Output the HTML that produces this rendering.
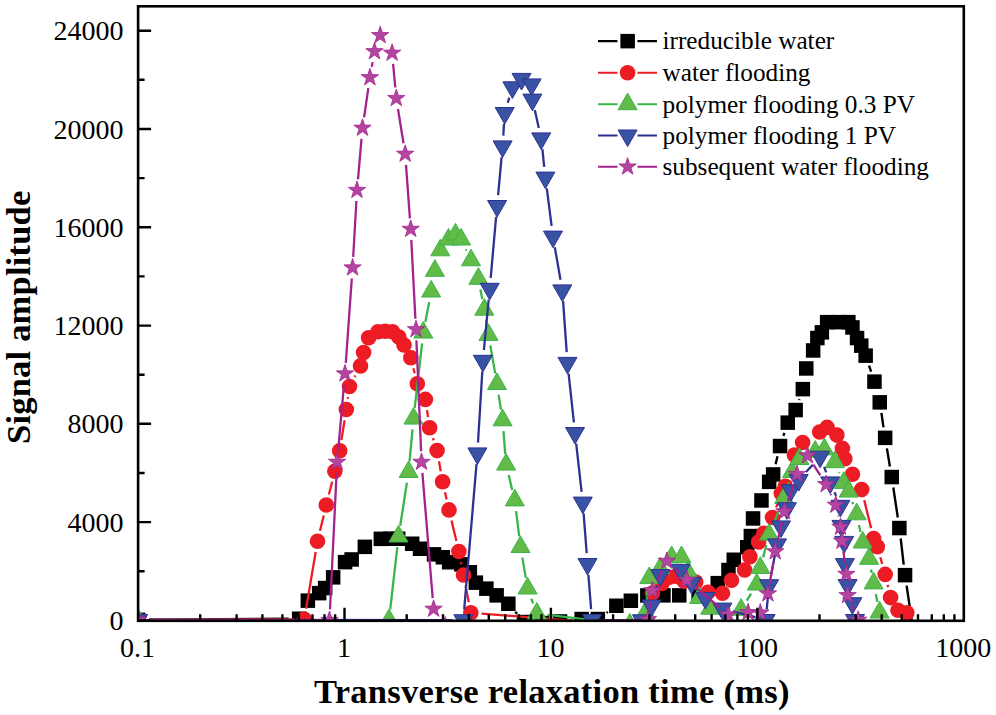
<!DOCTYPE html>
<html><head><meta charset="utf-8"><title>T2 spectra</title>
<style>html,body{margin:0;padding:0;background:#fff}svg{display:block}</style></head>
<body>
<svg width="996" height="715" viewBox="0 0 996 715">
<rect width="996" height="715" fill="#fff"/>
<defs><clipPath id="cp"><rect x="138.1" y="6.3" width="825.6999999999999" height="614.5"/></clipPath></defs>
<g clip-path="url(#cp)">
<path d="M148.8 619.8L288.6 618.8M515.3 611.8L517.1 613.9M570.5 620.3L571.1 620.2M606.5 612.8L607.8 611.9M707.4 590.1L708.9 589.0M775.6 464.2L777.5 456.3M783.4 435.9L784.4 432.8M799.1 400.0L799.4 399.1M869.0 365.7L871.1 371.7M881.4 412.9L883.5 427.4M886.9 448.4L889.9 466.5M893.3 487.5L897.8 517.5M900.7 538.5L903.7 564.6M906.6 585.6L911.9 621.5" stroke="#000" stroke-width="2.4" fill="none"/>
<g fill="#000"><rect x="130.9" y="612.6" width="14.5" height="14.5"/><rect x="291.9" y="611.5" width="14.5" height="14.5"/><rect x="300.6" y="593.4" width="14.5" height="14.5"/><rect x="311.9" y="585.9" width="14.5" height="14.5"/><rect x="317.9" y="580.8" width="14.5" height="14.5"/><rect x="325.9" y="570.1" width="14.5" height="14.5"/><rect x="337.8" y="554.9" width="14.5" height="14.5"/><rect x="344.4" y="552.2" width="14.5" height="14.5"/><rect x="357.6" y="539.6" width="14.5" height="14.5"/><rect x="373.6" y="531.6" width="14.5" height="14.5"/><rect x="382.8" y="531.5" width="14.5" height="14.5"/><rect x="390.9" y="531.5" width="14.5" height="14.5"/><rect x="404.9" y="536.5" width="14.5" height="14.5"/><rect x="412.8" y="541.5" width="14.5" height="14.5"/><rect x="426.8" y="547.1" width="14.5" height="14.5"/><rect x="435.6" y="550.0" width="14.5" height="14.5"/><rect x="441.9" y="555.0" width="14.5" height="14.5"/><rect x="454.1" y="557.1" width="14.5" height="14.5"/><rect x="462.6" y="565.0" width="14.5" height="14.5"/><rect x="468.6" y="575.4" width="14.5" height="14.5"/><rect x="479.1" y="581.4" width="14.5" height="14.5"/><rect x="489.4" y="588.1" width="14.5" height="14.5"/><rect x="501.1" y="596.5" width="14.5" height="14.5"/><rect x="516.8" y="614.8" width="14.5" height="14.5"/><rect x="534.8" y="615.8" width="14.5" height="14.5"/><rect x="552.8" y="614.2" width="14.5" height="14.5"/><rect x="574.4" y="611.8" width="14.5" height="14.5"/><rect x="590.6" y="611.8" width="14.5" height="14.5"/><rect x="609.1" y="598.5" width="14.5" height="14.5"/><rect x="623.6" y="593.5" width="14.5" height="14.5"/><rect x="640.1" y="588.2" width="14.5" height="14.5"/><rect x="656.2" y="588.1" width="14.5" height="14.5"/><rect x="672.0" y="588.1" width="14.5" height="14.5"/><rect x="691.4" y="588.8" width="14.5" height="14.5"/><rect x="710.5" y="575.9" width="14.5" height="14.5"/><rect x="721.2" y="562.8" width="14.5" height="14.5"/><rect x="726.5" y="552.5" width="14.5" height="14.5"/><rect x="740.0" y="540.0" width="14.5" height="14.5"/><rect x="743.6" y="528.8" width="14.5" height="14.5"/><rect x="745.8" y="511.2" width="14.5" height="14.5"/><rect x="754.2" y="493.2" width="14.5" height="14.5"/><rect x="761.9" y="474.6" width="14.5" height="14.5"/><rect x="765.9" y="467.2" width="14.5" height="14.5"/><rect x="772.8" y="438.8" width="14.5" height="14.5"/><rect x="780.5" y="415.4" width="14.5" height="14.5"/><rect x="788.4" y="402.8" width="14.5" height="14.5"/><rect x="795.6" y="381.9" width="14.5" height="14.5"/><rect x="799.0" y="361.2" width="14.5" height="14.5"/><rect x="805.9" y="343.2" width="14.5" height="14.5"/><rect x="810.1" y="330.8" width="14.5" height="14.5"/><rect x="814.6" y="325.1" width="14.5" height="14.5"/><rect x="819.9" y="314.9" width="14.5" height="14.5"/><rect x="830.8" y="314.9" width="14.5" height="14.5"/><rect x="841.1" y="314.9" width="14.5" height="14.5"/><rect x="845.2" y="320.2" width="14.5" height="14.5"/><rect x="849.8" y="330.8" width="14.5" height="14.5"/><rect x="854.0" y="338.4" width="14.5" height="14.5"/><rect x="858.4" y="348.4" width="14.5" height="14.5"/><rect x="867.2" y="374.4" width="14.5" height="14.5"/><rect x="872.5" y="395.1" width="14.5" height="14.5"/><rect x="877.9" y="430.6" width="14.5" height="14.5"/><rect x="884.5" y="469.8" width="14.5" height="14.5"/><rect x="892.1" y="520.8" width="14.5" height="14.5"/><rect x="897.8" y="567.9" width="14.5" height="14.5"/><rect x="906.2" y="624.8" width="14.5" height="14.5"/></g>
<path d="M149.0 619.9L293.5 619.3M306.1 608.7L315.7 551.9M320.0 530.8L323.8 515.5M328.9 494.5L332.2 481.7M341.4 440.1L344.6 420.2M347.8 398.8L348.0 397.2M354.6 377.0L355.4 375.4M413.4 368.3L414.7 373.2M427.0 410.1L428.0 417.1M433.0 438.1L433.7 440.3M439.0 461.2L440.7 471.2M445.0 492.3L446.6 499.4M451.5 520.4L456.4 541.0M461.0 562.1L461.4 564.4M465.5 585.6L468.8 602.2M481.6 613.6L627.2 625.2M642.3 616.1L648.2 602.9M776.2 507.4L777.6 503.7M788.3 475.8L791.4 465.4M864.2 500.1L871.1 528.1M880.3 557.2L882.2 564.0M887.6 584.9L888.2 587.1" stroke="#ed1c24" stroke-width="2.3" fill="none"/>
<g fill="#ed1c24"><circle cx="138.2" cy="619.9" r="7.8"/><circle cx="304.3" cy="619.3" r="7.8"/><circle cx="317.5" cy="541.3" r="7.8"/><circle cx="326.3" cy="505.0" r="7.8"/><circle cx="334.8" cy="471.2" r="7.8"/><circle cx="339.7" cy="450.8" r="7.8"/><circle cx="346.3" cy="409.5" r="7.8"/><circle cx="349.5" cy="386.5" r="7.8"/><circle cx="360.5" cy="365.9" r="7.8"/><circle cx="363.6" cy="352.5" r="7.8"/><circle cx="368.6" cy="337.8" r="7.8"/><circle cx="378.0" cy="331.7" r="7.8"/><circle cx="385.4" cy="331.3" r="7.8"/><circle cx="392.5" cy="331.7" r="7.8"/><circle cx="398.8" cy="337.0" r="7.8"/><circle cx="404.0" cy="345.0" r="7.8"/><circle cx="410.8" cy="357.8" r="7.8"/><circle cx="417.3" cy="383.7" r="7.8"/><circle cx="425.4" cy="399.4" r="7.8"/><circle cx="429.6" cy="427.8" r="7.8"/><circle cx="437.1" cy="450.6" r="7.8"/><circle cx="442.6" cy="481.8" r="7.8"/><circle cx="449.0" cy="509.9" r="7.8"/><circle cx="458.9" cy="551.5" r="7.8"/><circle cx="463.5" cy="575.0" r="7.8"/><circle cx="470.8" cy="612.8" r="7.8"/><circle cx="638.0" cy="626.0" r="7.8"/><circle cx="652.5" cy="593.0" r="7.8"/><circle cx="662.0" cy="583.5" r="7.8"/><circle cx="669.3" cy="577.2" r="7.8"/><circle cx="676.1" cy="576.2" r="7.8"/><circle cx="684.0" cy="581.1" r="7.8"/><circle cx="695.7" cy="582.1" r="7.8"/><circle cx="708.0" cy="592.2" r="7.8"/><circle cx="722.5" cy="593.2" r="7.8"/><circle cx="731.5" cy="580.3" r="7.8"/><circle cx="744.6" cy="570.0" r="7.8"/><circle cx="749.9" cy="556.8" r="7.8"/><circle cx="758.6" cy="542.0" r="7.8"/><circle cx="763.8" cy="533.2" r="7.8"/><circle cx="772.5" cy="517.5" r="7.8"/><circle cx="781.3" cy="493.6" r="7.8"/><circle cx="785.3" cy="486.2" r="7.8"/><circle cx="794.4" cy="455.0" r="7.8"/><circle cx="802.6" cy="442.5" r="7.8"/><circle cx="819.7" cy="432.0" r="7.8"/><circle cx="827.1" cy="427.4" r="7.8"/><circle cx="836.9" cy="435.1" r="7.8"/><circle cx="842.4" cy="448.4" r="7.8"/><circle cx="844.8" cy="458.8" r="7.8"/><circle cx="852.5" cy="474.2" r="7.8"/><circle cx="861.7" cy="489.6" r="7.8"/><circle cx="873.6" cy="538.6" r="7.8"/><circle cx="877.3" cy="546.8" r="7.8"/><circle cx="885.2" cy="574.4" r="7.8"/><circle cx="890.6" cy="597.6" r="7.8"/><circle cx="898.0" cy="610.3" r="7.8"/><circle cx="906.8" cy="612.8" r="7.8"/></g>
<path d="M149.0 619.9L378.2 620.2M390.2 609.5L397.3 547.2M400.2 525.8L406.9 482.7M409.6 461.2L412.5 429.4M414.7 407.9L422.1 343.3M425.3 322.0L429.2 302.1M465.7 249.3L466.4 250.5M480.4 289.4L482.3 299.1M486.1 320.4L486.7 324.2M490.3 345.5L495.2 373.4M498.6 394.7L501.0 409.6M503.5 431.1L505.2 453.8M508.7 475.1L512.2 489.9M516.1 511.1L519.2 536.3M522.3 557.6L525.8 577.9M531.3 598.6L533.1 603.5M547.5 614.9L619.1 623.3M646.5 602.1L648.0 588.8M692.2 581.9L694.9 588.1M721.0 609.1L730.3 609.4M746.8 600.6L751.1 593.7M763.1 557.5L766.3 545.0M773.2 524.6L780.0 508.0M787.2 487.7L788.9 482.3M839.1 472.1L839.5 473.0M852.3 501.8L853.1 504.1M858.9 524.9L860.5 531.9M871.0 569.4L871.7 572.8M875.8 594.0L877.4 601.9" stroke="#39b54a" stroke-width="2.3" fill="none"/>
<g fill="#62bb46" stroke="#39b54a" stroke-width="1"><path d="M138.2 608.8L147.7 625.4L128.7 625.4Z"/><path d="M389.0 609.1L398.5 625.7L379.5 625.7Z"/><path d="M398.5 525.4L408.0 542.0L389.0 542.0Z"/><path d="M408.6 460.9L418.1 477.5L399.1 477.5Z"/><path d="M413.5 407.5L423.0 424.1L404.0 424.1Z"/><path d="M423.3 321.5L432.8 338.1L413.8 338.1Z"/><path d="M431.2 280.4L440.7 297.0L421.7 297.0Z"/><path d="M434.9 259.7L444.4 276.3L425.4 276.3Z"/><path d="M440.3 239.2L449.8 255.8L430.8 255.8Z"/><path d="M448.5 228.4L458.0 245.0L439.0 245.0Z"/><path d="M455.5 223.4L465.0 240.0L446.0 240.0Z"/><path d="M461.1 228.4L470.6 245.0L451.6 245.0Z"/><path d="M471.0 249.2L480.5 265.8L461.5 265.8Z"/><path d="M478.4 267.7L487.9 284.3L468.9 284.3Z"/><path d="M484.3 298.6L493.8 315.2L474.8 315.2Z"/><path d="M488.5 323.8L498.0 340.4L479.0 340.4Z"/><path d="M497.0 372.9L506.5 389.5L487.5 389.5Z"/><path d="M502.6 409.2L512.1 425.8L493.1 425.8Z"/><path d="M506.1 453.5L515.6 470.1L496.6 470.1Z"/><path d="M514.8 489.3L524.3 505.9L505.3 505.9Z"/><path d="M520.5 535.9L530.0 552.5L511.0 552.5Z"/><path d="M527.6 577.4L537.1 594.0L518.1 594.0Z"/><path d="M536.8 602.5L546.3 619.1L527.3 619.1Z"/><path d="M629.8 613.5L639.3 630.1L620.3 630.1Z"/><path d="M645.3 601.7L654.8 618.3L635.8 618.3Z"/><path d="M649.2 567.0L658.7 583.6L639.7 583.6Z"/><path d="M660.3 557.2L669.8 573.8L650.8 573.8Z"/><path d="M671.6 546.1L681.1 562.7L662.1 562.7Z"/><path d="M681.5 546.1L691.0 562.7L672.0 562.7Z"/><path d="M688.0 560.9L697.5 577.5L678.5 577.5Z"/><path d="M699.1 586.9L708.6 603.5L689.6 603.5Z"/><path d="M710.2 597.6L719.7 614.2L700.7 614.2Z"/><path d="M741.1 598.7L750.6 615.3L731.6 615.3Z"/><path d="M756.8 573.4L766.3 590.0L747.3 590.0Z"/><path d="M760.3 556.8L769.8 573.4L750.8 573.4Z"/><path d="M769.1 523.5L778.6 540.1L759.6 540.1Z"/><path d="M784.1 486.9L793.6 503.5L774.6 503.5Z"/><path d="M792.0 460.9L801.5 477.5L782.5 477.5Z"/><path d="M799.4 447.9L808.9 464.5L789.9 464.5Z"/><path d="M815.2 440.6L824.7 457.2L805.7 457.2Z"/><path d="M824.4 438.3L833.9 454.9L814.9 454.9Z"/><path d="M834.8 451.1L844.3 467.7L825.3 467.7Z"/><path d="M843.8 471.8L853.3 488.4L834.3 488.4Z"/><path d="M848.7 480.5L858.2 497.1L839.2 497.1Z"/><path d="M856.7 503.2L866.2 519.8L847.2 519.8Z"/><path d="M862.7 531.4L872.2 548.0L853.2 548.0Z"/><path d="M869.1 547.7L878.6 564.3L859.6 564.3Z"/><path d="M873.6 572.3L883.1 588.9L864.1 588.9Z"/><path d="M879.6 601.4L889.1 618.0L870.1 618.0Z"/></g>
<path d="M149.0 619.9L452.5 620.2M464.2 609.4L476.5 464.2M478.0 442.6L482.3 371.6M483.9 350.0L488.7 299.6M490.7 278.0L496.1 216.8M498.1 195.2L501.6 157.2M503.3 135.6L504.0 123.8M507.8 102.7L509.3 97.6M534.8 110.1L538.8 127.9M542.4 149.1L544.2 166.9M546.8 188.3L551.6 225.9M554.8 247.2L560.5 279.8M563.1 301.2L566.7 352.1M568.6 373.6L573.9 422.3M576.2 443.7L581.6 491.9M583.6 513.4L586.7 553.2M588.4 574.8L591.1 609.2M602.8 620.1L631.2 620.2M654.5 595.1L657.3 585.5M732.8 611.4L755.2 617.2M766.7 609.3L768.0 595.9M771.2 574.6L774.9 555.0M806.0 472.0L812.8 464.7M824.1 466.8L826.2 472.3M834.5 492.3L836.1 495.9M844.5 552.7L844.6 553.3" stroke="#2e3192" stroke-width="2.3" fill="none"/>
<g fill="#3953a4" stroke="#2e3192" stroke-width="1"><path d="M138.2 631.0L147.7 614.4L128.7 614.4Z"/><path d="M463.3 631.3L472.8 614.7L453.8 614.7Z"/><path d="M477.4 464.5L486.9 447.9L467.9 447.9Z"/><path d="M482.9 371.9L492.4 355.3L473.4 355.3Z"/><path d="M489.7 299.9L499.2 283.3L480.2 283.3Z"/><path d="M497.1 217.1L506.6 200.5L487.6 200.5Z"/><path d="M502.6 157.5L512.1 140.9L493.1 140.9Z"/><path d="M504.7 124.1L514.2 107.5L495.2 107.5Z"/><path d="M512.4 98.4L521.9 81.8L502.9 81.8Z"/><path d="M521.5 90.0L531.0 73.4L512.0 73.4Z"/><path d="M531.6 95.5L541.1 78.9L522.1 78.9Z"/><path d="M532.4 110.7L541.9 94.1L522.9 94.1Z"/><path d="M541.2 149.5L550.7 132.9L531.7 132.9Z"/><path d="M545.4 188.7L554.9 172.1L535.9 172.1Z"/><path d="M553.0 247.7L562.5 231.1L543.5 231.1Z"/><path d="M562.3 301.5L571.8 284.9L552.8 284.9Z"/><path d="M567.5 374.0L577.0 357.4L558.0 357.4Z"/><path d="M575.0 444.1L584.5 427.5L565.5 427.5Z"/><path d="M582.8 513.7L592.3 497.1L573.3 497.1Z"/><path d="M587.5 575.1L597.0 558.5L578.0 558.5Z"/><path d="M592.0 631.1L601.5 614.5L582.5 614.5Z"/><path d="M642.0 631.4L651.5 614.8L632.5 614.8Z"/><path d="M651.5 616.6L661.0 600.0L642.0 600.0Z"/><path d="M660.3 586.2L669.8 569.6L650.8 569.6Z"/><path d="M680.5 581.0L690.0 564.4L671.0 564.4Z"/><path d="M691.6 594.0L701.1 577.4L682.1 577.4Z"/><path d="M705.3 609.0L714.8 592.4L695.8 592.4Z"/><path d="M722.4 619.7L731.9 603.1L712.9 603.1Z"/><path d="M765.6 631.1L775.1 614.5L756.1 614.5Z"/><path d="M769.1 596.3L778.6 579.7L759.6 579.7Z"/><path d="M777.0 555.5L786.5 538.9L767.5 538.9Z"/><path d="M781.0 537.5L790.5 520.9L771.5 520.9Z"/><path d="M786.9 519.3L796.4 502.7L777.4 502.7Z"/><path d="M790.9 501.3L800.4 484.7L781.4 484.7Z"/><path d="M798.7 491.1L808.2 474.5L789.2 474.5Z"/><path d="M820.1 467.8L829.6 451.2L810.6 451.2Z"/><path d="M830.2 493.5L839.7 476.9L820.7 476.9Z"/><path d="M840.4 516.9L849.9 500.3L830.9 500.3Z"/><path d="M841.5 537.0L851.0 520.4L832.0 520.4Z"/><path d="M844.2 553.0L853.7 536.4L834.7 536.4Z"/><path d="M844.9 575.2L854.4 558.6L835.4 558.6Z"/><path d="M847.6 596.1L857.1 579.5L838.1 579.5Z"/><path d="M852.4 614.3L861.9 597.7L842.9 597.7Z"/><path d="M855.0 631.1L864.5 614.5L845.5 614.5Z"/></g>
<path d="M149.0 619.9L318.7 620.2M330.0 609.4L336.6 472.9M338.1 451.3L344.0 384.5M345.8 362.9L351.8 278.5M353.2 256.9L356.4 201.0M358.0 179.4L361.5 138.8M364.1 117.3L368.3 88.2M371.8 66.9L372.6 62.1M393.1 63.8L395.3 87.5M398.0 109.0L403.5 143.3M406.0 164.8L409.9 218.3M411.3 239.9L415.4 318.7M416.4 340.3L421.1 451.3M422.4 472.9L432.7 598.2M456.1 625.5L637.1 619.8M649.6 608.8L650.7 601.2M657.2 580.8L662.0 570.8M674.7 568.5L679.1 572.6M695.3 587.0L719.8 607.6M769.7 583.0L773.4 562.2M777.6 541.1L782.0 522.1M787.8 501.4L793.6 484.4M813.4 464.7L820.3 475.3M830.8 494.2L831.2 495.2M838.1 515.6L838.2 516.4M843.4 551.7L845.0 563.4M851.9 605.3L853.9 610.1" stroke="#a3238e" stroke-width="2.3" fill="none"/>
<g fill="#b345a0" stroke="#a3238e" stroke-width="0.8"><path d="M138.2 610.7L140.3 617.0L146.9 617.1L141.6 621.0L143.6 627.3L138.2 623.5L132.8 627.3L134.8 621.0L129.5 617.1L136.1 617.0Z"/><path d="M329.5 611.0L331.6 617.3L338.2 617.4L332.9 621.3L334.9 627.6L329.5 623.8L324.1 627.6L326.1 621.3L320.8 617.4L327.4 617.3Z"/><path d="M337.1 452.9L339.2 459.2L345.8 459.3L340.5 463.2L342.5 469.5L337.1 465.7L331.7 469.5L333.7 463.2L328.4 459.3L335.0 459.2Z"/><path d="M345.0 364.5L347.1 370.8L353.7 370.9L348.4 374.8L350.4 381.1L345.0 377.3L339.6 381.1L341.6 374.8L336.3 370.9L342.9 370.8Z"/><path d="M352.6 258.5L354.7 264.8L361.3 264.9L356.0 268.8L358.0 275.1L352.6 271.3L347.2 275.1L349.2 268.8L343.9 264.9L350.5 264.8Z"/><path d="M357.0 181.0L359.1 187.3L365.7 187.4L360.4 191.3L362.4 197.6L357.0 193.8L351.6 197.6L353.6 191.3L348.3 187.4L354.9 187.3Z"/><path d="M362.5 118.8L364.6 125.1L371.2 125.2L365.9 129.1L367.9 135.4L362.5 131.6L357.1 135.4L359.1 129.1L353.8 125.2L360.4 125.1Z"/><path d="M369.9 68.3L372.0 74.6L378.6 74.7L373.3 78.6L375.3 84.9L369.9 81.1L364.5 84.9L366.5 78.6L361.2 74.7L367.8 74.6Z"/><path d="M374.5 42.3L376.6 48.6L383.2 48.7L377.9 52.6L379.9 58.9L374.5 55.1L369.1 58.9L371.1 52.6L365.8 48.7L372.4 48.6Z"/><path d="M380.2 26.2L382.3 32.5L388.9 32.6L383.6 36.5L385.6 42.8L380.2 39.0L374.8 42.8L376.8 36.5L371.5 32.6L378.1 32.5Z"/><path d="M392.1 43.8L394.2 50.1L400.8 50.2L395.5 54.1L397.5 60.4L392.1 56.6L386.7 60.4L388.7 54.1L383.4 50.2L390.0 50.1Z"/><path d="M396.3 89.1L398.4 95.4L405.0 95.5L399.7 99.4L401.7 105.7L396.3 101.9L390.9 105.7L392.9 99.4L387.6 95.5L394.2 95.4Z"/><path d="M405.2 144.8L407.3 151.1L413.9 151.2L408.6 155.1L410.6 161.4L405.2 157.6L399.8 161.4L401.8 155.1L396.5 151.2L403.1 151.1Z"/><path d="M410.7 219.9L412.8 226.2L419.4 226.3L414.1 230.2L416.1 236.5L410.7 232.7L405.3 236.5L407.3 230.2L402.0 226.3L408.6 226.2Z"/><path d="M416.0 320.3L418.1 326.6L424.7 326.7L419.4 330.6L421.4 336.9L416.0 333.1L410.6 336.9L412.6 330.6L407.3 326.7L413.9 326.6Z"/><path d="M421.5 452.9L423.6 459.2L430.2 459.3L424.9 463.2L426.9 469.5L421.5 465.7L416.1 469.5L418.1 463.2L412.8 459.3L419.4 459.2Z"/><path d="M433.6 599.8L435.7 606.1L442.3 606.2L437.0 610.1L439.0 616.4L433.6 612.6L428.2 616.4L430.2 610.1L424.9 606.2L431.5 606.1Z"/><path d="M445.3 616.6L447.4 622.9L454.0 623.0L448.7 626.9L450.7 633.2L445.3 629.4L439.9 633.2L441.9 626.9L436.6 623.0L443.2 622.9Z"/><path d="M647.9 610.3L650.0 616.6L656.6 616.7L651.3 620.6L653.3 626.9L647.9 623.1L642.5 626.9L644.5 620.6L639.2 616.7L645.8 616.6Z"/><path d="M652.4 581.3L654.5 587.6L661.1 587.7L655.8 591.6L657.8 597.9L652.4 594.1L647.0 597.9L649.0 591.6L643.7 587.7L650.3 587.6Z"/><path d="M666.8 551.9L668.9 558.2L675.5 558.3L670.2 562.2L672.2 568.5L666.8 564.7L661.4 568.5L663.4 562.2L658.1 558.3L664.7 558.2Z"/><path d="M687.0 570.8L689.1 577.1L695.7 577.2L690.4 581.1L692.4 587.4L687.0 583.6L681.6 587.4L683.6 581.1L678.3 577.2L684.9 577.1Z"/><path d="M728.1 605.4L730.2 611.7L736.8 611.8L731.5 615.7L733.5 622.0L728.1 618.2L722.7 622.0L724.7 615.7L719.4 611.8L726.0 611.7Z"/><path d="M748.1 603.3L750.2 609.6L756.8 609.7L751.5 613.6L753.5 619.9L748.1 616.1L742.7 619.9L744.7 613.6L739.4 609.7L746.0 609.6Z"/><path d="M760.3 603.6L762.4 609.9L769.0 610.0L763.7 613.9L765.7 620.2L760.3 616.4L754.9 620.2L756.9 613.9L751.6 610.0L758.2 609.9Z"/><path d="M767.9 584.4L770.0 590.7L776.6 590.8L771.3 594.7L773.3 601.0L767.9 597.2L762.5 601.0L764.5 594.7L759.2 590.8L765.8 590.7Z"/><path d="M775.2 542.4L777.3 548.7L783.9 548.8L778.6 552.7L780.6 559.0L775.2 555.2L769.8 559.0L771.8 552.7L766.5 548.8L773.1 548.7Z"/><path d="M784.4 502.4L786.5 508.7L793.1 508.8L787.8 512.7L789.8 519.0L784.4 515.2L779.0 519.0L781.0 512.7L775.7 508.8L782.3 508.7Z"/><path d="M797.0 465.0L799.1 471.3L805.7 471.4L800.4 475.3L802.4 481.6L797.0 477.8L791.6 481.6L793.6 475.3L788.3 471.4L794.9 471.3Z"/><path d="M807.5 446.4L809.6 452.7L816.2 452.8L810.9 456.7L812.9 463.0L807.5 459.2L802.1 463.0L804.1 456.7L798.8 452.8L805.4 452.7Z"/><path d="M826.2 475.2L828.3 481.5L834.9 481.6L829.6 485.5L831.6 491.8L826.2 488.0L820.8 491.8L822.8 485.5L817.5 481.6L824.1 481.5Z"/><path d="M835.8 495.8L837.9 502.1L844.5 502.2L839.2 506.1L841.2 512.4L835.8 508.6L830.4 512.4L832.4 506.1L827.1 502.2L833.7 502.1Z"/><path d="M840.5 517.8L842.6 524.1L849.2 524.2L843.9 528.1L845.9 534.4L840.5 530.6L835.1 534.4L837.1 528.1L831.8 524.2L838.4 524.1Z"/><path d="M842.0 531.8L844.1 538.1L850.7 538.2L845.4 542.1L847.4 548.4L842.0 544.6L836.6 548.4L838.6 542.1L833.3 538.2L839.9 538.1Z"/><path d="M846.4 564.9L848.5 571.2L855.1 571.3L849.8 575.2L851.8 581.5L846.4 577.7L841.0 581.5L843.0 575.2L837.7 571.3L844.3 571.2Z"/><path d="M847.6 586.2L849.7 592.5L856.3 592.6L851.0 596.5L853.0 602.8L847.6 599.0L842.2 602.8L844.2 596.5L838.9 592.6L845.5 592.5Z"/><path d="M858.2 610.8L860.3 617.1L866.9 617.2L861.6 621.1L863.6 627.4L858.2 623.6L852.8 627.4L854.8 621.1L849.5 617.2L856.1 617.1Z"/></g>
</g>
<path d="M138.1 620.4h13M138.1 571.3h6.5M138.1 522.1h13M138.1 473.0h6.5M138.1 423.8h13M138.1 374.7h6.5M138.1 325.6h13M138.1 276.4h6.5M138.1 227.3h13M138.1 178.1h6.5M138.1 129.0h13M138.1 79.8h6.5M138.1 30.7h13M200.2 620.8v-6.5M236.6 620.8v-6.5M262.4 620.8v-6.5M282.4 620.8v-6.5M298.7 620.8v-6.5M312.5 620.8v-6.5M324.5 620.8v-6.5M335.1 620.8v-6.5M344.5 620.8v-13M406.7 620.8v-6.5M443.0 620.8v-6.5M468.8 620.8v-6.5M488.8 620.8v-6.5M505.2 620.8v-6.5M519.0 620.8v-6.5M530.9 620.8v-6.5M541.5 620.8v-6.5M550.9 620.8v-13M613.1 620.8v-6.5M649.4 620.8v-6.5M675.2 620.8v-6.5M695.2 620.8v-6.5M711.6 620.8v-6.5M725.4 620.8v-6.5M737.4 620.8v-6.5M747.9 620.8v-6.5M757.4 620.8v-13M819.5 620.8v-6.5M855.9 620.8v-6.5M881.7 620.8v-6.5M901.7 620.8v-6.5M918.0 620.8v-6.5M931.8 620.8v-6.5M943.8 620.8v-6.5M954.4 620.8v-6.5" stroke="#000" stroke-width="2.4" fill="none"/>
<rect x="138.1" y="6.3" width="825.6999999999999" height="614.5" fill="none" stroke="#000" stroke-width="2.6"/>
<g font-family="'Liberation Serif', serif" font-size="28" fill="#000">
<text x="123.6" y="629.9" text-anchor="end">0</text>
<text x="123.6" y="531.6" text-anchor="end">4000</text>
<text x="123.6" y="433.3" text-anchor="end">8000</text>
<text x="123.6" y="335.1" text-anchor="end">12000</text>
<text x="123.6" y="236.8" text-anchor="end">16000</text>
<text x="123.6" y="138.5" text-anchor="end">20000</text>
<text x="123.6" y="40.2" text-anchor="end">24000</text>
<text x="137.6" y="656.5" text-anchor="middle">0.1</text>
<text x="344.0" y="656.5" text-anchor="middle">1</text>
<text x="550.4" y="656.5" text-anchor="middle">10</text>
<text x="756.9" y="656.5" text-anchor="middle">100</text>
<text x="963.3" y="656.5" text-anchor="middle">1000</text>
</g>
<g font-family="'Liberation Serif', serif" font-weight="bold" font-size="34.5" fill="#000">
<text x="551.7" y="703" text-anchor="middle" textLength="475.5" lengthAdjust="spacing">Transverse relaxation time (ms)</text>
<text transform="translate(29.8,317.3) rotate(-90)" text-anchor="middle" textLength="253.2" lengthAdjust="spacing">Signal amplitude</text>
</g>
<path d="M598 41.1H617.5M637.5 41.1H657" stroke="#000" stroke-width="2.1"/>
<path d="M598 72.8H617.5M637.5 72.8H657" stroke="#ed1c24" stroke-width="2.1"/>
<path d="M598 104.2H617.5M637.5 104.2H657" stroke="#39b54a" stroke-width="2.1"/>
<path d="M598 135.5H617.5M637.5 135.5H657" stroke="#2e3192" stroke-width="2.1"/>
<path d="M598 166.8H617.5M637.5 166.8H657" stroke="#a3238e" stroke-width="2.1"/>
<g fill="#000"><rect x="620.4" y="33.9" width="14.5" height="14.5"/></g>
<g fill="#ed1c24"><circle cx="627.6" cy="72.8" r="7.8"/></g>
<g fill="#62bb46" stroke="#39b54a" stroke-width="1"><path d="M627.6 93.1L637.1 109.7L618.1 109.7Z"/></g>
<g fill="#3953a4" stroke="#2e3192" stroke-width="1"><path d="M627.6 146.6L637.1 130.0L618.1 130.0Z"/></g>
<g fill="#b345a0" stroke="#a3238e" stroke-width="0.8"><path d="M627.6 157.6L629.7 163.9L636.3 164.0L631.0 167.9L633.0 174.2L627.6 170.4L622.2 174.2L624.2 167.9L618.9 164.0L625.5 163.9Z"/></g>
<g font-family="'Liberation Serif', serif" font-size="25.25" fill="#000">
<text x="662.5" y="49.4">irreducible water</text>
<text x="662.5" y="81.1">water flooding</text>
<text x="662.5" y="112.5">polymer flooding 0.3 PV</text>
<text x="662.5" y="143.8">polymer flooding 1 PV</text>
<text x="662.5" y="175.1">subsequent water flooding</text>
</g>
</svg>
</body></html>
